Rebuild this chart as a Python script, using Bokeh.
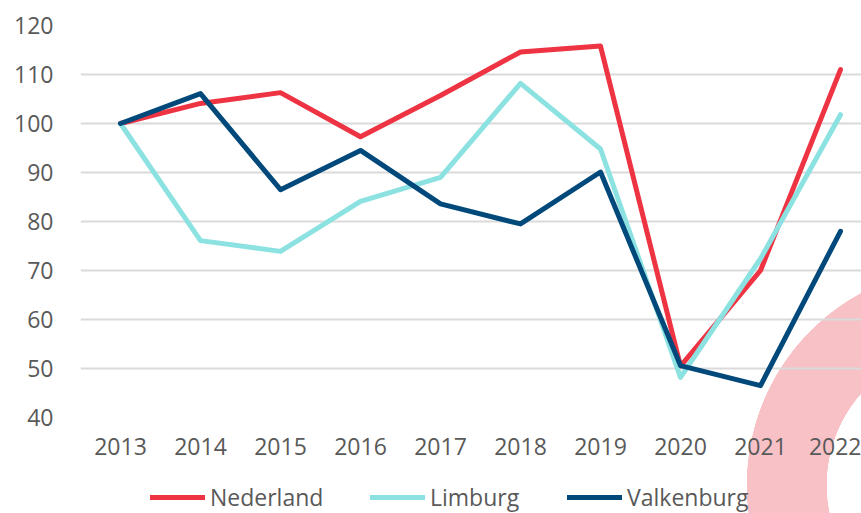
from bokeh.plotting import figure
from bokeh.layouts import column
from bokeh.models import Range1d, Legend, LegendItem, FixedTicker
from bokeh.embed import file_html
from bokeh.resources import INLINE

years = [2013, 2014, 2015, 2016, 2017, 2018, 2019, 2020, 2021, 2022]
nederland = [100, 104.1, 106.3, 97.3, 105.7, 114.6, 115.8, 50.5, 70.0, 111.0]
limburg = [100, 76.1, 73.9, 84.1, 89.0, 108.2, 94.8, 48.2, 72.4, 101.8]
valkenburg = [100, 106.1, 86.5, 94.5, 83.6, 79.5, 90.1, 50.6, 46.5, 78.0]
y_ticks = [40, 50, 60, 70, 80, 90, 100, 110, 120]
series_names = ["Nederland", "Limburg", "Valkenburg"]
series_colors = ["#EE3443", "#8CE1E1", "#00497A"]
series_values = [nederland, limburg, valkenburg]

FONT = "Open Sans"
TXT = "#595959"

p = figure(width=861, height=470,
           x_range=Range1d(2012.5, 2022.2625), y_range=Range1d(40, 120),
           output_backend="svg", toolbar_location=None,
           min_border_left=80, min_border_right=0, min_border_top=25,
           min_border_bottom=53)
p.background_fill_color = None
p.border_fill_color = None
p.outline_line_color = None

for vals, col in zip(series_values, series_colors):
    p.line(years, vals, line_color=col, line_width=5,
           line_join="round", line_cap="round")

p.xaxis.ticker = FixedTicker(ticks=years)
p.yaxis.ticker = FixedTicker(ticks=y_ticks)
for ax in (p.xaxis, p.yaxis):
    ax.axis_line_color = None
    ax.major_tick_line_color = None
    ax.minor_tick_line_color = None
    ax.major_label_text_font = FONT
    ax.major_label_text_font_size = "23px"
    ax.major_label_text_color = TXT
p.yaxis.major_label_standoff = 21
p.xaxis.major_label_standoff = 14

p.xgrid.grid_line_color = None
p.ygrid.grid_line_color = "#DADADA"
p.ygrid.grid_line_width = 2

# legend strip below the chart (its ranges keep the series out of view;
# only the legend entries are shown)
leg = figure(width=861, height=43, x_range=Range1d(0, 1), y_range=Range1d(0, 1),
             output_backend="svg", toolbar_location=None,
             x_axis_type=None, y_axis_type=None,
             min_border_left=80, min_border_right=0, min_border_top=0, min_border_bottom=0)
leg.background_fill_color = None
leg.border_fill_color = None
leg.outline_line_color = None

legend_x = [70, 290, 487]
for name, vals, col, lx in zip(series_names, series_values, series_colors, legend_x):
    r = leg.line(years, vals, line_color=col, line_width=5, line_cap="round")
    lg = Legend(items=[LegendItem(label=name, renderers=[r])],
                location=(lx, 0), orientation="horizontal",
                padding=0, margin=0, spacing=0,
                glyph_width=55, glyph_height=20, label_standoff=5,
                label_text_font=FONT, label_text_font_size="23px",
                label_text_color=TXT, label_height=20,
                border_line_color=None, background_fill_color=None,
                background_fill_alpha=0)
    leg.add_layout(lg, "center")

layout = column(p, leg, spacing=0)
layout.styles = {"background": "radial-gradient(circle at 965px 485px, rgba(255,255,255,0) 138px, #F7C1C6 138.5px, #F7C1C6 218px, rgba(255,255,255,0) 218.5px)"}

open("out.html", "w").write(file_html(layout, INLINE))
